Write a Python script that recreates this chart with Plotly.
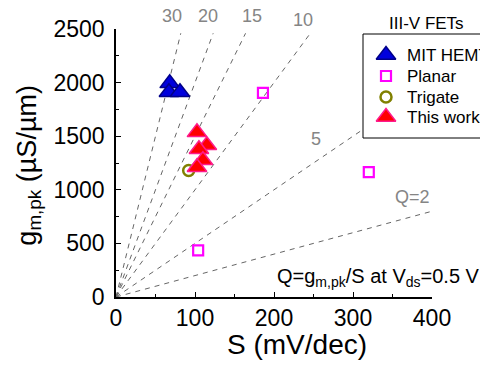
import plotly.graph_objects as go

# ---------------- data ----------------
mit_S = [68, 67, 81]
mit_g = [1993, 1910, 1910]

planar_S = [186, 320, 104]
planar_g = [1905, 1165, 435]

trigate_S = [92]
trigate_g = [1181]

work_S = [102.5, 115, 105, 110, 102.5]
work_g = [1536, 1415, 1378, 1275, 1210]

Q_values = [2, 5, 10, 15, 20, 30]
Q_labels = ["Q=2", "5", "10", "15", "20", "30"]
g_line_max = 2460
S_max = 400

legend_names = ["MIT HEMT", "Planar", "Trigate", "This work"]

x_ticks = [0, 100, 200, 300, 400]
y_ticks = [0, 500, 1000, 1500, 2000, 2500]

FONT = "Liberation Sans, Arial, sans-serif"
GRAY_LINE = "#666666"
GRAY_TEXT = "#858585"

fig = go.Figure()

# Q = g/S reference lines
for Q in Q_values:
    s_end = min(S_max, g_line_max / Q)
    fig.add_trace(go.Scatter(
        x=[0, s_end], y=[0, Q * s_end], mode="lines",
        line=dict(color=GRAY_LINE, width=1, dash="5px,5px"),
        showlegend=False, hoverinfo="skip"))

# data series
fig.add_trace(go.Scatter(x=mit_S, y=mit_g, mode="markers", name="MIT HEMT",
    marker=dict(symbol="triangle-up", size=17, color="#0000dd",
                line=dict(color="#000088", width=1.5)),
    showlegend=False, cliponaxis=False))
fig.add_trace(go.Scatter(x=planar_S, y=planar_g, mode="markers", name="Planar",
    marker=dict(symbol="square-open", size=10, color="#ff00ff",
                line=dict(width=2.2)),
    showlegend=False, cliponaxis=False))
fig.add_trace(go.Scatter(x=trigate_S, y=trigate_g, mode="markers", name="Trigate",
    marker=dict(symbol="circle-open", size=11, color="#808000",
                line=dict(width=2.5)),
    showlegend=False, cliponaxis=False))
fig.add_trace(go.Scatter(x=work_S, y=work_g, mode="markers", name="This work",
    marker=dict(symbol="triangle-up", size=17, color="#ff0000",
                line=dict(color="#ff1a8c", width=1.5)),
    showlegend=False, cliponaxis=False))

# ---------------- custom legend (pixel-like overlay axes) ----------------
box_l, box_r, box_t, box_b = 363, 495, 34, 138
fig.add_trace(go.Scatter(
    x=[box_l, box_r, box_r, box_l, box_l], y=[box_t, box_t, box_b, box_b, box_t],
    xaxis="x2", yaxis="y2", mode="lines", fill="toself", fillcolor="white",
    line=dict(color="black", width=1), showlegend=False, hoverinfo="skip"))

leg_rows = [55, 76, 97, 117]
leg_mx = 386
leg_tx = 405
leg_styles = [
    dict(symbol="triangle-up", size=17, color="#0000dd", line=dict(color="#000088", width=1.5)),
    dict(symbol="square-open", size=10, color="#ff00ff", line=dict(width=2.2)),
    dict(symbol="circle-open", size=11, color="#808000", line=dict(width=2.5)),
    dict(symbol="triangle-up", size=17, color="#ff0000", line=dict(color="#ff1a8c", width=1.5)),
]
for name, yy, st in zip(legend_names, leg_rows, leg_styles):
    fig.add_trace(go.Scatter(x=[leg_mx], y=[yy], xaxis="x2", yaxis="y2",
        mode="markers", marker=st, showlegend=False, hoverinfo="skip",
        cliponaxis=False))

annotations = []
for name, yy in zip(legend_names, leg_rows):
    annotations.append(dict(x=leg_tx, y=yy, xref="x2", yref="y2", text=name,
        showarrow=False, xanchor="left", yanchor="middle",
        font=dict(size=17, color="black", family=FONT)))
annotations.append(dict(x=0.854, y=1.022, xref="paper", yref="paper",
    text="III-V FETs", showarrow=False, xanchor="center", yanchor="middle",
    font=dict(size=17, color="black", family=FONT)))

# Q line labels
label_pos = {
    "30": (70.9, 1.047, "paper"),
    "20": (116.5, 1.047, "paper"),
    "15": (172, 1.047, "paper"),
    "10": (236.7, 1.032, "paper"),
    "5": (253, 1470, "y"),
    "Q=2": (374.7, 929, "y"),
}
for lab in Q_labels:
    xx, yy, yr = label_pos[lab]
    annotations.append(dict(x=xx, y=yy, xref="x", yref=yr, text=lab,
        showarrow=False, xanchor="center", yanchor="middle",
        font=dict(size=18, color=GRAY_TEXT, family=FONT)))

annotations.append(dict(x=201, y=184, xref="x", yref="y",
    text="Q=g<sub>m,pk</sub>/S at V<sub>ds</sub>=0.5 V", showarrow=False,
    xanchor="left", yanchor="middle",
    font=dict(size=20, color="black", family=FONT)))

# axis titles
annotations.append(dict(x=228.5, y=-0.177, xref="x", yref="paper",
    text="S (mV/dec)", showarrow=False, xanchor="center", yanchor="middle",
    font=dict(size=28, color="black", family=FONT)))
annotations.append(dict(x=-0.24, y=0.4925, xref="paper", yref="paper",
    text="g<sub>m,pk</sub> (µS/µm)", textangle=-90, showarrow=False,
    xanchor="center", yanchor="middle",
    font=dict(size=27, color="black", family=FONT)))

axis_common = dict(
    showline=True, linecolor="black", linewidth=1.5, mirror=False,
    ticks="inside", ticklen=5, tickwidth=1.2, tickcolor="black",
    showgrid=False, zeroline=False,
    tickfont=dict(size=23, color="black", family=FONT),
    minor=dict(ticks="inside", ticklen=3, tickwidth=1.2, tickcolor="black", showgrid=False),
)

fig.update_layout(
    width=480, height=365,
    margin=dict(l=116, r=0, t=29, b=68, autoexpand=False),
    paper_bgcolor="white", plot_bgcolor="rgba(0,0,0,0)",
    font=dict(family=FONT, color="black"),
    xaxis=dict(domain=[0, 316 / 364], range=[0, 400], tickvals=x_ticks,
               minor_dtick=50, ticklabelstandoff=0, **axis_common),
    yaxis=dict(domain=[0, 1], range=[0, 2500], tickvals=y_ticks,
               minor_dtick=250, ticklabelstandoff=5, **axis_common),
    xaxis2=dict(domain=[0, 1], range=[116, 480], visible=False, anchor="y2",
                fixedrange=True),
    yaxis2=dict(domain=[0, 1], range=[297, 29], visible=False, anchor="x2",
                fixedrange=True),
    annotations=annotations,
    showlegend=False,
)

fig.write_html("out.html")
